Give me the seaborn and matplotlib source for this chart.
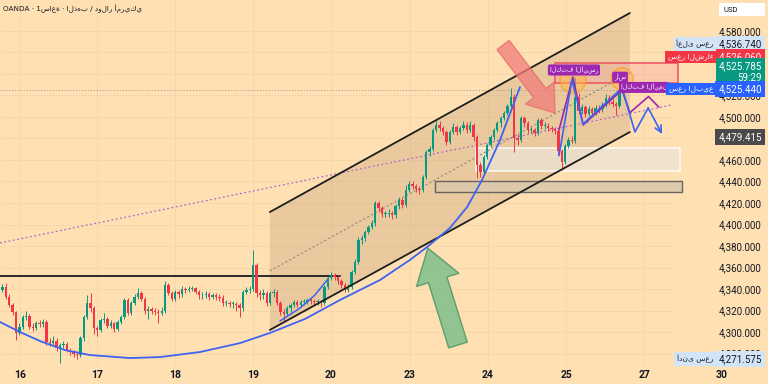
import matplotlib
matplotlib.use("Agg")
import matplotlib.pyplot as plt
from matplotlib.patches import Rectangle, Ellipse, Polygon
import numpy as np
import pandas as pd
import seaborn as sns

# ---- hourly candles (bar index 0 .. 182) ----
first_open = 4339
closes = [
    4342, 4333, 4325, 4319, 4299, 4305, 4314, 4315, 4305, 4304,
    4308, 4307, 4309, 4291, 4290, 4292, 4285, 4288, 4289, 4283,
    4281, 4280, 4279, 4294, 4314, 4327, 4322, 4304, 4302, 4311,
    4312, 4306, 4308, 4303, 4309, 4314, 4330, 4318, 4327, 4333,
    4336, 4331, 4320, 4321, 4320, 4319, 4318, 4320, 4344, 4336,
    4331, 4337, 4335, 4340, 4339, 4340, 4341, 4337, 4334, 4334,
    4335, 4333, 4334, 4333, 4332, 4327, 4327, 4326, 4326, 4325,
    4322, 4337, 4339, 4340, 4362, 4336, 4334, 4336, 4327, 4336,
    4337, 4327, 4319, 4317, 4322, 4325, 4328, 4325, 4328, 4328,
    4330, 4329, 4328, 4328, 4327, 4342, 4350, 4353, 4351, 4347,
    4344, 4339, 4342, 4356, 4365, 4386, 4387, 4393, 4398, 4401,
    4420, 4415, 4410, 4410, 4411, 4409, 4417, 4423, 4418, 4432,
    4438, 4436, 4433, 4432, 4444, 4467, 4470, 4488, 4493, 4490,
    4486, 4477, 4486, 4491, 4486, 4490, 4493, 4488, 4493, 4481,
    4455, 4449, 4463, 4474, 4481, 4488, 4494, 4499, 4504, 4510,
    4519, 4480, 4479, 4499, 4494, 4488, 4488, 4485, 4497, 4492,
    4492, 4490, 4489, 4487, 4468, 4458, 4473, 4479, 4478, 4519,
    4506, 4509, 4503, 4507, 4504, 4508, 4507, 4511, 4518, 4514,
    4512, 4510, 4525.44]
highs = [
    4345, 4346, 4335, 4327, 4320, 4308, 4316, 4320, 4317, 4308,
    4310, 4311, 4312, 4311, 4294, 4296, 4294, 4290, 4292, 4291,
    4285, 4283, 4282, 4296, 4316, 4334, 4336, 4324, 4306, 4313,
    4318, 4314, 4311, 4309, 4311, 4316, 4332, 4332, 4329, 4335,
    4341, 4338, 4333, 4324, 4323, 4322, 4321, 4323, 4347, 4346,
    4338, 4339, 4339, 4343, 4342, 4343, 4343, 4342, 4339, 4337,
    4338, 4337, 4336, 4336, 4335, 4334, 4330, 4329, 4329, 4328,
    4327, 4339, 4342, 4343, 4376, 4364, 4339, 4340, 4338, 4338,
    4340, 4339, 4329, 4321, 4324, 4327, 4330, 4330, 4330, 4331,
    4332, 4332, 4331, 4331, 4330, 4344, 4352, 4356, 4355, 4353,
    4349, 4346, 4345, 4358, 4368, 4388, 4390, 4395, 4400, 4404,
    4422, 4422, 4417, 4413, 4414, 4413, 4419, 4426, 4425, 4437,
    4440, 4440, 4438, 4436, 4446, 4469, 4473, 4490, 4497, 4496,
    4492, 4488, 4488, 4494, 4493, 4492, 4496, 4495, 4496, 4494,
    4483, 4458, 4465, 4476, 4483, 4490, 4496, 4501, 4506, 4512,
    4527, 4521, 4484, 4501, 4501, 4496, 4491, 4490, 4499, 4499,
    4495, 4494, 4492, 4491, 4489, 4470, 4475, 4481, 4482, 4536.74,
    4522, 4512, 4511, 4510, 4509, 4511, 4511, 4514, 4521, 4520,
    4517, 4514, 4528]
lows = [
    4337, 4331, 4323, 4316, 4293, 4297, 4303, 4311, 4303, 4301,
    4302, 4305, 4305, 4288, 4287, 4288, 4282, 4271.575, 4285, 4281,
    4279, 4277, 4275, 4277, 4292, 4312, 4319, 4298, 4296, 4300,
    4308, 4304, 4304, 4300, 4301, 4307, 4312, 4316, 4316, 4325,
    4331, 4329, 4317, 4312, 4317, 4316, 4308, 4316, 4318, 4334,
    4329, 4329, 4332, 4333, 4336, 4337, 4338, 4335, 4331, 4331,
    4332, 4330, 4331, 4330, 4329, 4324, 4324, 4323, 4322, 4320,
    4314, 4320, 4335, 4336, 4338, 4333, 4330, 4331, 4324, 4325,
    4333, 4325, 4316, 4310, 4315, 4319, 4323, 4323, 4323, 4325,
    4326, 4326, 4325, 4325, 4323, 4325, 4340, 4348, 4348, 4345,
    4341, 4337, 4337, 4340, 4354, 4363, 4382, 4385, 4391, 4396,
    4399, 4412, 4407, 4407, 4407, 4405, 4406, 4414, 4415, 4416,
    4430, 4433, 4430, 4428, 4430, 4442, 4464, 4468, 4486, 4487,
    4483, 4474, 4475, 4484, 4483, 4484, 4488, 4485, 4486, 4478,
    4443, 4444, 4447, 4461, 4472, 4479, 4486, 4491, 4497, 4502,
    4508, 4467, 4474, 4477, 4491, 4485, 4485, 4482, 4483, 4489,
    4489, 4487, 4486, 4484, 4465, 4451, 4456, 4471, 4476, 4476,
    4503, 4503, 4500, 4501, 4501, 4502, 4504, 4505, 4509, 4511,
    4509, 4502, 4508]

day_labels = ["16", "17", "18", "19", "20", "23", "24", "25", "27", "30"]
day_pos = [5.2, 27.9, 50.9, 73.9, 96.9, 120.2, 143.2, 166.3, 189.3, 212.3]
price_ticks = list(range(4280, 4581, 20))
hidden_ticks = [4480, 4540, 4560]  # covered by the price tags

# ---- drawings (bar index, price) ----
channel_x = [78.9, 185.1]
channel_top = [4411.6, 4596.7]
channel_bottom = [4301.9, 4486.0]
channel_mid = [4356.8, 4541.4]
resist_x = [-0.7, 99.6]
resist_y = [4352, 4352]
trend_x = [-0.7, 197.5]
trend_y = [4382.8, 4511.2]
curve_x = [-0.7, 5.2, 11.1, 18.5, 25.8, 37.6, 46.5, 58.3, 70.1, 78.9,
           89.3, 99.6, 111.4, 120.2, 125.3, 132.0, 137.1, 141.5, 146.8, 152.7]
curve_y = [4309.3, 4300.0, 4291.6, 4283.2, 4278.6, 4275.8, 4276.7, 4281.4, 4289.7, 4299.1,
           4312.2, 4329.8, 4348.4, 4367.0, 4379.1, 4396.7, 4416.3, 4441.4, 4478.6, 4527.9]
small_x = [81.9, 87.8, 92.2, 95.8]
small_y = [4310.2, 4322.3, 4334.4, 4348.4]
purple_x = [164.2, 168.3, 171.3, 182.8, 185.1, 190.6, 193.6]
purple_y = [4487.9, 4537.2, 4492.6, 4525.1, 4504.0, 4519.0, 4509.3]
blue_x = [164.2, 168.0, 171.3, 182.8, 186.6, 190.5]
blue_y = [4464.0, 4534.4, 4493.5, 4527.0, 4486.0, 4508.4]
blue_end = (194.6, 4484.2)

bg = "#FFE0B3"
up, down = "#089981", "#F23645"
num_font = ["Roboto", "DejaVu Sans"]

sns.set_theme(style="white")
plt.rcParams["font.family"] = ["DejaVu Sans"]

fig = plt.figure(figsize=(7.68, 3.84), dpi=100)
fig.patch.set_facecolor(bg)
ax = fig.add_axes([0, 18 / 384, 1, 366 / 384])
ax.set_facecolor(bg)
ax.set_xlim(-0.7, 225.85)
ax.set_ylim(4268.4, 4608.8)
for s in ax.spines.values():
    s.set_visible(False)

# faint grid
ax.hlines(price_ticks, -0.7, 197.5, colors="#F3D4A8", lw=0.5, zorder=0)
ax.vlines(day_pos[:-1], 4268.4, 4608.8, colors="#F3D4A8", lw=0.5, zorder=0)

# channel
ax.add_patch(Polygon([(channel_x[0], channel_top[0]), (channel_x[1], channel_top[1]),
                      (channel_x[1], channel_bottom[1]), (channel_x[0], channel_bottom[0])],
                     closed=True, fc="#C9A77C", ec="none", alpha=0.4, zorder=1))

# boxes
ax.add_patch(Rectangle((139.7, 4449.8), 60.2, 21.4, fc="#EDE3D6", ec="white", lw=1.3, alpha=0.75, zorder=2))
ax.add_patch(Rectangle((127.6, 4430.2), 72.9, 10.3, fc="#DCC8AC", ec="#5a5a5a", lw=1.0, alpha=0.9, zorder=2))
ax.add_patch(Rectangle((163.0, 4531.6), 36.3, 18.6, fc="#F4A3A3", ec="none", alpha=0.35, zorder=2))
ax.add_patch(Rectangle((163.0, 4531.6), 36.3, 18.6, fc="none", ec="#EE5A64", lw=1.2, zorder=2))

lines = pd.DataFrame({"x": trend_x, "y": trend_y})
sns.lineplot(data=lines, x="x", y="y", ax=ax, color="#B565C9", lw=0.9,
             linestyle=(0, (1.5, 2)), estimator=None, sort=False, zorder=2)
ax.hlines(4525.44, -0.7, 197.5, colors="#8f9399", linestyles=(0, (1, 2)), lw=0.7, zorder=2)
sns.lineplot(x=channel_x, y=channel_mid, ax=ax, color="#8a8a8a", lw=0.8,
             linestyle=(0, (2, 2)), estimator=None, zorder=2)
sns.lineplot(x=resist_x, y=resist_y, ax=ax, color="#2b2b2b", lw=1.4, estimator=None, zorder=2)

# candles
closes_a = np.array(closes, dtype=float)
opens_a = np.concatenate([[first_open], closes_a[:-1]])
xs = np.arange(len(closes_a))
cols = np.where(closes_a >= opens_a, up, down)
ax.vlines(xs, lows, highs, colors=cols, lw=0.7, zorder=4)
ax.bar(xs, np.maximum(np.abs(closes_a - opens_a), 0.8), bottom=np.minimum(opens_a, closes_a),
       width=0.7, color=cols, linewidth=0, zorder=5)

# channel borders
sns.lineplot(x=channel_x, y=channel_top, ax=ax, color="#1e1e1e", lw=1.3, estimator=None, zorder=6)
sns.lineplot(x=channel_x, y=channel_bottom, ax=ax, color="#1e1e1e", lw=1.3, estimator=None, zorder=6)

# blue curves
sns.lineplot(x=curve_x, y=curve_y, ax=ax, color="#3D63F2", lw=1.3, estimator=None, sort=False, zorder=6)
sns.lineplot(x=small_x, y=small_y, ax=ax, color="#3D63F2", lw=1.1, estimator=None, sort=False, zorder=6)

# head & shoulders
ax.add_patch(Ellipse((168.3, 4534.4), 7.7, 24.2, fc="#FFB74D", ec="#FF9800", lw=1.2, alpha=0.5, zorder=6))
ax.add_patch(Ellipse((182.8, 4535.3), 6.5, 20.5, fc="#FFB74D", ec="#FF9800", lw=1.2, alpha=0.5, zorder=6))
sns.lineplot(x=purple_x, y=purple_y, ax=ax, color="#9C27B0", lw=1.2, estimator=None, sort=False, zorder=7)
sns.lineplot(x=blue_x, y=blue_y, ax=ax, color="#3D63F2", lw=1.2, estimator=None, sort=False, zorder=7)
ax.annotate("", xy=blue_end, xytext=(blue_x[-1], blue_y[-1]),
            arrowprops=dict(arrowstyle="->", color="#3D63F2", lw=1.2, shrinkA=0, shrinkB=0), zorder=7)

tag = dict(ha="center", va="center", fontsize=4.4, color="white", zorder=8,
           bbox=dict(boxstyle="round,pad=0.3", fc="#9C27B0", ec="none"))
ax.text(168.6, 4543.7, "الكتف الأيسر", **tag)
ax.text(182.2, 4537.0, "رأس", **tag)
ax.text(189.3, 4527.5, "الكتف الأيمن", **tag)

# big arrows
ax.annotate("", xy=(163.0, 4503.7), xytext=(147.7, 4567.0),
            arrowprops=dict(arrowstyle="simple,head_length=1.8,head_width=2.6,tail_width=1.1",
                            fc="#F07C7C", ec="#E96B6B", alpha=0.75, mutation_scale=10,
                            shrinkA=0, shrinkB=0), zorder=8)
ax.annotate("", xy=(125.5, 4378.1), xytext=(134.4, 4287.9),
            arrowprops=dict(arrowstyle="simple,head_length=2.4,head_width=3.2,tail_width=1.4",
                            fc="#6DBB85", ec="#3E8E5A", alpha=0.75, mutation_scale=10,
                            shrinkA=0, shrinkB=0), zorder=8)

# axes ticks
ax.yaxis.tick_right()
ax.set_yticks(price_ticks)
ax.set_yticklabels(["" if p in hidden_ticks else f"{p:,.3f}" for p in price_ticks],
                   ha="right", family=num_font)
ax.tick_params(axis="y", length=0, pad=-4.5, labelsize=7, labelcolor="#131722")
ax.set_xticks(day_pos)
ax.set_xticklabels(day_labels, fontweight="bold", family=num_font)
ax.tick_params(axis="x", length=0, pad=3, labelsize=7.5, labelcolor="#131722")
ax.set_xlabel("")
ax.set_ylabel("")


def price_box(yfrac, text, fc, tc):
    ax.text(0.992, yfrac, text, transform=ax.transAxes, ha="right", va="center",
            fontsize=7, color=tc, zorder=10, linespacing=1.25, family=num_font,
            bbox=dict(boxstyle="square,pad=0.3", fc=fc, ec="none"))


def name_box(yfrac, text, fc, tc):
    ax.text(0.929, yfrac, text, transform=ax.transAxes, ha="right", va="center",
            fontsize=5.4, color=tc, zorder=10,
            bbox=dict(boxstyle="square,pad=0.35", fc=fc, ec="none"))


price_box(1 - 44 / 366, "4,536.740", "#D4E4F7", "#131722")
name_box(1 - 44 / 366, "أعلى سعر", "#D4E4F7", "#131722")
price_box(1 - 57 / 366, "4,526.060", "#F23645", "white")
name_box(1 - 57 / 366, "سعر الشراء", "#F23645", "white")
price_box(1 - 72 / 366, "4,525.785\n59:29", "#089981", "white")
price_box(1 - 89 / 366, "4,525.440", "#2962FF", "white")
name_box(1 - 89 / 366, "سعر البيع", "#2962FF", "white")
price_box(1 - 137 / 366, "4,479.415", "#4A4A4A", "white")
price_box(1 - 359 / 366, "4,271.575", "#D4E4F7", "#131722")
name_box(1 - 359 / 366, "أدنى سعر", "#D4E4F7", "#131722")

ax.add_patch(Rectangle((719 / 768, 1 - 16 / 366), 46 / 768, 13 / 366, transform=ax.transAxes,
                       fc="white", ec="none", zorder=10))
ax.text(723 / 768, 1 - 9.5 / 366, "USD", transform=ax.transAxes, ha="left", va="center",
        fontsize=5.5, color="#131722", zorder=11, family=num_font)

ax.text(3 / 768, 1 - 9 / 366, "OANDA · 1ساعة · الذهب / دولار أمريكي", transform=ax.transAxes,
        ha="left", va="center", fontsize=5.2, color="#131722", zorder=11)

fig.savefig("out.png", dpi=100, facecolor=bg)
